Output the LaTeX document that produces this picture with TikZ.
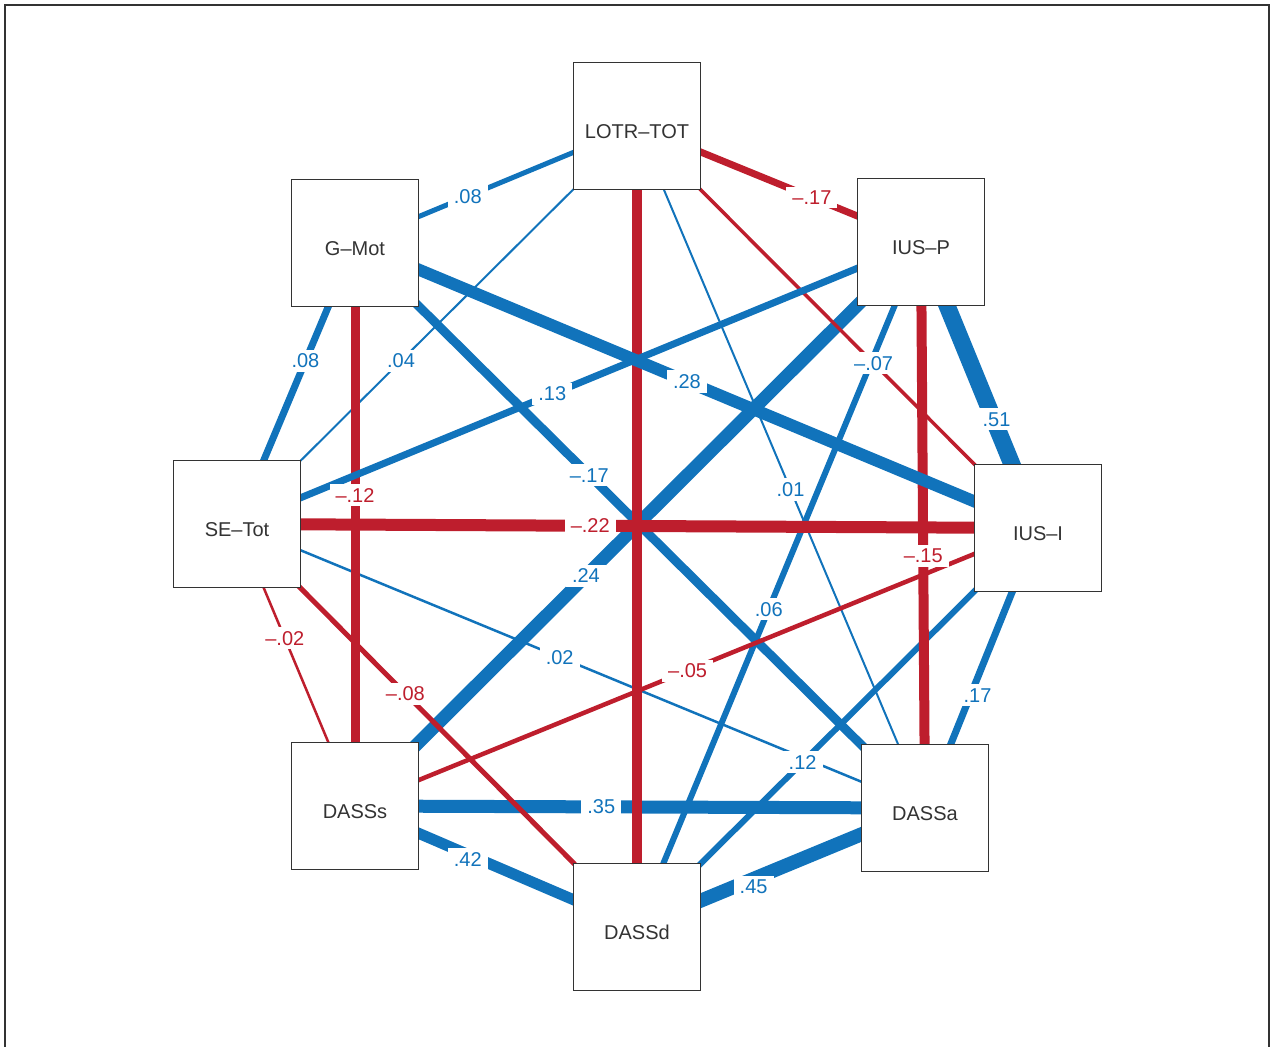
\documentclass[tikz,border=0pt]{standalone}
\usepackage{fontspec}
\setmainfont{Liberation Sans}
\usetikzlibrary{backgrounds}
\definecolor{corrBlue}{RGB}{17,115,187}
\definecolor{corrRed}{RGB}{190,30,45}
\definecolor{boxGray}{RGB}{51,51,51}

\tikzset{
  var/.style={draw=boxGray, fill=white, line width=1.3pt, minimum size=127pt,
    inner sep=0pt, text height=24pt, text depth=0pt, text=boxGray,
    font=\fontsize{20}{24}\selectfont},
  blueline/.style={draw=corrBlue},
  redline/.style={draw=corrRed},
  coef/.style={fill=white, inner xsep=6pt, inner ysep=4pt, font=\fontsize{20}{24}\selectfont},
  outerframe/.style={draw=boxGray, line width=1.6pt}
}

\begin{document}
\begin{tikzpicture}[x=1pt, y=-1pt]
    \useasboundingbox (0,0) rectangle (1272,1047);
    % outer frame, open at the bottom
    \draw[outerframe] (5,1047) -- (5,5) -- (1269,5) -- (1269,1047);

    % Variables
    \node[var] (lotr)  at (637,126) {LOTR–TOT};
    \node[var] (gmot)  at (355,243) {G–Mot};
    \node[var] (iusp)  at (921,242) {IUS–P};
    \node[var] (setot) at (237,524) {SE–Tot};
    \node[var] (iusi)  at (1038,528) {IUS–I};
    \node[var] (dasss) at (355,806) {DASSs};
    \node[var] (dassa) at (925,808) {DASSa};
    \node[var] (dassd) at (637,927) {DASSd};

    % Correlations, under the boxes
    \begin{scope}[on background layer]
      % positive
      \draw[blueline, line width=5pt]   (lotr.center) -- (gmot.center);
      \draw[blueline, line width=2pt]   (lotr.center) -- (setot.center);
      \draw[blueline, line width=2pt]   (lotr.center) -- (dassa.center);
      \draw[blueline, line width=7pt]   (gmot.center) -- (setot.center);
      \draw[blueline, line width=9pt]   (gmot.center) -- (dassa.center);
      \draw[blueline, line width=13pt]  (iusp.center) -- (dasss.center);
      \draw[blueline, line width=17pt]  (iusp.center) -- (iusi.center);
      \draw[blueline, line width=6pt]   (iusp.center) -- (dassd.center);
      \draw[blueline, line width=2.5pt] (setot.center) -- (dassa.center);
      \draw[blueline, line width=7pt]   (iusi.center) -- (dassa.center);
      \draw[blueline, line width=6pt]   (iusi.center) -- (dassd.center);
      \draw[blueline, line width=13pt]  (dasss.center) -- (dassa.center);
      \draw[blueline, line width=11pt]  (dasss.center) -- (dassd.center);
      \draw[blueline, line width=14pt]  (dassa.center) -- (dassd.center);
      % negative
      \draw[redline, line width=7pt]    (lotr.center) -- (iusp.center);
      \draw[redline, line width=3.5pt]  (lotr.center) -- (iusi.center);
      \draw[redline, line width=10pt]   (lotr.center) -- (dassd.center);
      \draw[redline, line width=9pt]    (gmot.center) -- (dasss.center);
      \draw[redline, line width=10pt]   (iusp.center) -- (dassa.center);
      \draw[redline, line width=12pt]   (setot.center) -- (iusi.center);
      \draw[redline, line width=2.5pt]  (setot.center) -- (dasss.center);
      \draw[redline, line width=5pt]    (setot.center) -- (dassd.center);
      \draw[redline, line width=4.5pt]  (iusi.center) -- (dasss.center);
      % these two run over the red ones
      \draw[blueline, line width=12pt]  (gmot.center) -- (iusi.center);
      \draw[blueline, line width=7pt]   (iusp.center) -- (setot.center);
    \end{scope}

    % Coefficients
    \path (lotr.center) -- (gmot.center)   node[coef, text=corrBlue, pos=0.60]  {.08};
    \path (lotr.center) -- (iusp.center)   node[coef, text=corrRed,  pos=0.616] {–.17};
    \path (lotr.center) -- (setot.center)  node[coef, text=corrBlue, pos=0.59]  {.04};
    \path (lotr.center) -- (iusi.center)   node[coef, text=corrBlue, pos=0.59]  {–.07};
    \path (lotr.center) -- (dassa.center)  node[coef, text=corrBlue, pos=0.533] {.01};
    \path (gmot.center) -- (setot.center)  node[coef, text=corrBlue, pos=0.42]  {.08};
    \path (gmot.center) -- (iusi.center)   node[coef, text=corrBlue, pos=0.486] {.28};
    \path (gmot.center) -- (dasss.center)  node[coef, text=corrRed,  pos=0.448] {–.12};
    \path (gmot.center) -- (dassa.center)  node[coef, text=corrBlue, pos=0.411] {–.17};
    \path (iusp.center) -- (setot.center)  node[coef, text=corrBlue, pos=0.539] {.13};
    \path (iusp.center) -- (dasss.center)  node[coef, text=corrBlue, pos=0.592] {.24};
    \path (iusp.center) -- (iusi.center)   node[coef, text=corrBlue, pos=0.62, xshift=3pt] {.51};
    \path (iusp.center) -- (dassa.center)  node[coef, text=corrRed,  pos=0.555] {–.15};
    \path (iusp.center) -- (dassd.center)  node[coef, text=corrBlue, pos=0.536] {.06};
    \path (setot.center) -- (iusi.center)  node[coef, text=corrRed,  pos=0.441] {–.22};
    \path (setot.center) -- (dasss.center) node[coef, text=corrRed,  pos=0.405] {–.02};
    \path (setot.center) -- (dassd.center) node[coef, text=corrRed,  pos=0.421] {–.08};
    \path (setot.center) -- (dassa.center) node[coef, text=corrBlue, pos=0.469] {.02};
    \path (iusi.center) -- (dasss.center)  node[coef, text=corrRed,  pos=0.513] {–.05};
    \path (iusi.center) -- (dassa.center)  node[coef, text=corrBlue, pos=0.597, xshift=7pt] {.17};
    \path (iusi.center) -- (dassd.center)  node[coef, text=corrBlue, pos=0.587] {.12};
    \path (dasss.center) -- (dassa.center) node[coef, text=corrBlue, pos=0.432] {.35};
    \path (dasss.center) -- (dassd.center) node[coef, text=corrBlue, pos=0.40, yshift=-5pt]  {.42};
    \path (dassa.center) -- (dassd.center) node[coef, text=corrBlue, pos=0.595, yshift=-8pt] {.45};
  \end{tikzpicture}
\end{document}
